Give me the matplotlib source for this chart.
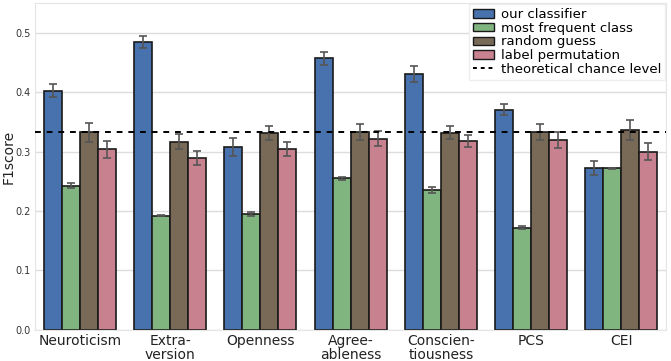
import matplotlib.pyplot as plt
from matplotlib.patches import Patch
from matplotlib.lines import Line2D
import numpy as np

# données
traits = ['Neuroticism', 'Extra-\nversion', 'Openness', 'Agree-\nableness',
          'Conscien-\ntiousness', 'PCS', 'CEI']
series = ['our classifier', 'most frequent class', 'random guess', 'label permutation']

classifier = [0.403, 0.485, 0.308, 0.458, 0.431, 0.371, 0.273]
classifier_err = [0.011, 0.010, 0.015, 0.011, 0.013, 0.009, 0.012]
most_frequent = [0.243, 0.192, 0.195, 0.255, 0.236, 0.172, 0.272]
most_frequent_err = [0.004, 0.001, 0.004, 0.003, 0.005, 0.003, 0.001]
random_guess = [0.333, 0.317, 0.331, 0.333, 0.332, 0.333, 0.337]
random_guess_err = [0.016, 0.013, 0.012, 0.014, 0.011, 0.014, 0.017]
label_perm = [0.304, 0.290, 0.304, 0.322, 0.318, 0.320, 0.300]
label_perm_err = [0.014, 0.012, 0.012, 0.013, 0.010, 0.013, 0.014]
chance_level = 1 / 3

values = [classifier, most_frequent, random_guess, label_perm]
errors = [classifier_err, most_frequent_err, random_guess_err, label_perm_err]
colors = ['#4872AE', '#80B57F', '#786A57', '#C8818F']

fig = plt.figure(figsize=(6.71, 3.61), dpi=100)
ax = fig.add_axes([0.052, 0.087, 0.941, 0.905])

x = np.arange(len(traits))
w = 0.2
for i in range(4):
    ax.bar(x + (i - 1.5) * w, values[i], w, color=colors[i], edgecolor='#1a1a1a',
           linewidth=1.2, zorder=2)
    ax.errorbar(x + (i - 1.5) * w, values[i], yerr=errors[i], fmt='none',
                ecolor='#555555', elinewidth=1.2, capsize=3, capthick=1.2, zorder=3)

ax.axhline(chance_level, color='black', linestyle=(0, (3, 3)), linewidth=1.4, zorder=4)

ax.set_xlim(-0.5, len(traits) - 0.5)
ax.set_ylim(0, 0.551)
ax.set_yticks([0.0, 0.1, 0.2, 0.3, 0.4, 0.5])
ax.set_yticklabels(['0.0', '0.1', '0.2', '0.3', '0.4', '0.5'], fontsize=7, color='#333333')
ax.set_xticks(x)
ax.set_xticklabels(traits, fontsize=10, linespacing=1.05, color='#222222')
ax.set_ylabel('F1score', fontsize=10, color='#222222')
ax.yaxis.set_label_coords(-0.031, 0.53)
ax.tick_params(length=0, pad=3)
ax.yaxis.grid(True, color='#dddddd', linewidth=1.0, zorder=0)
ax.set_axisbelow(True)
for s in ax.spines.values():
    s.set_color('#e5e5e5')

handles = [Patch(facecolor=c, edgecolor='#1a1a1a', linewidth=1.0) for c in colors]
handles.append(Line2D([0], [0], color='black', linestyle=(0, (2, 2)), linewidth=1.4))
leg = ax.legend(handles, series + ['theoretical chance level'], loc='upper right',
                fontsize=9.5, labelspacing=0.05, handlelength=1.6, handleheight=0.6,
                handletextpad=0.5, borderpad=0.3, borderaxespad=0.1, fancybox=False,
                framealpha=1.0, edgecolor='#eeeeee')

fig.savefig('out.png', dpi=100)
